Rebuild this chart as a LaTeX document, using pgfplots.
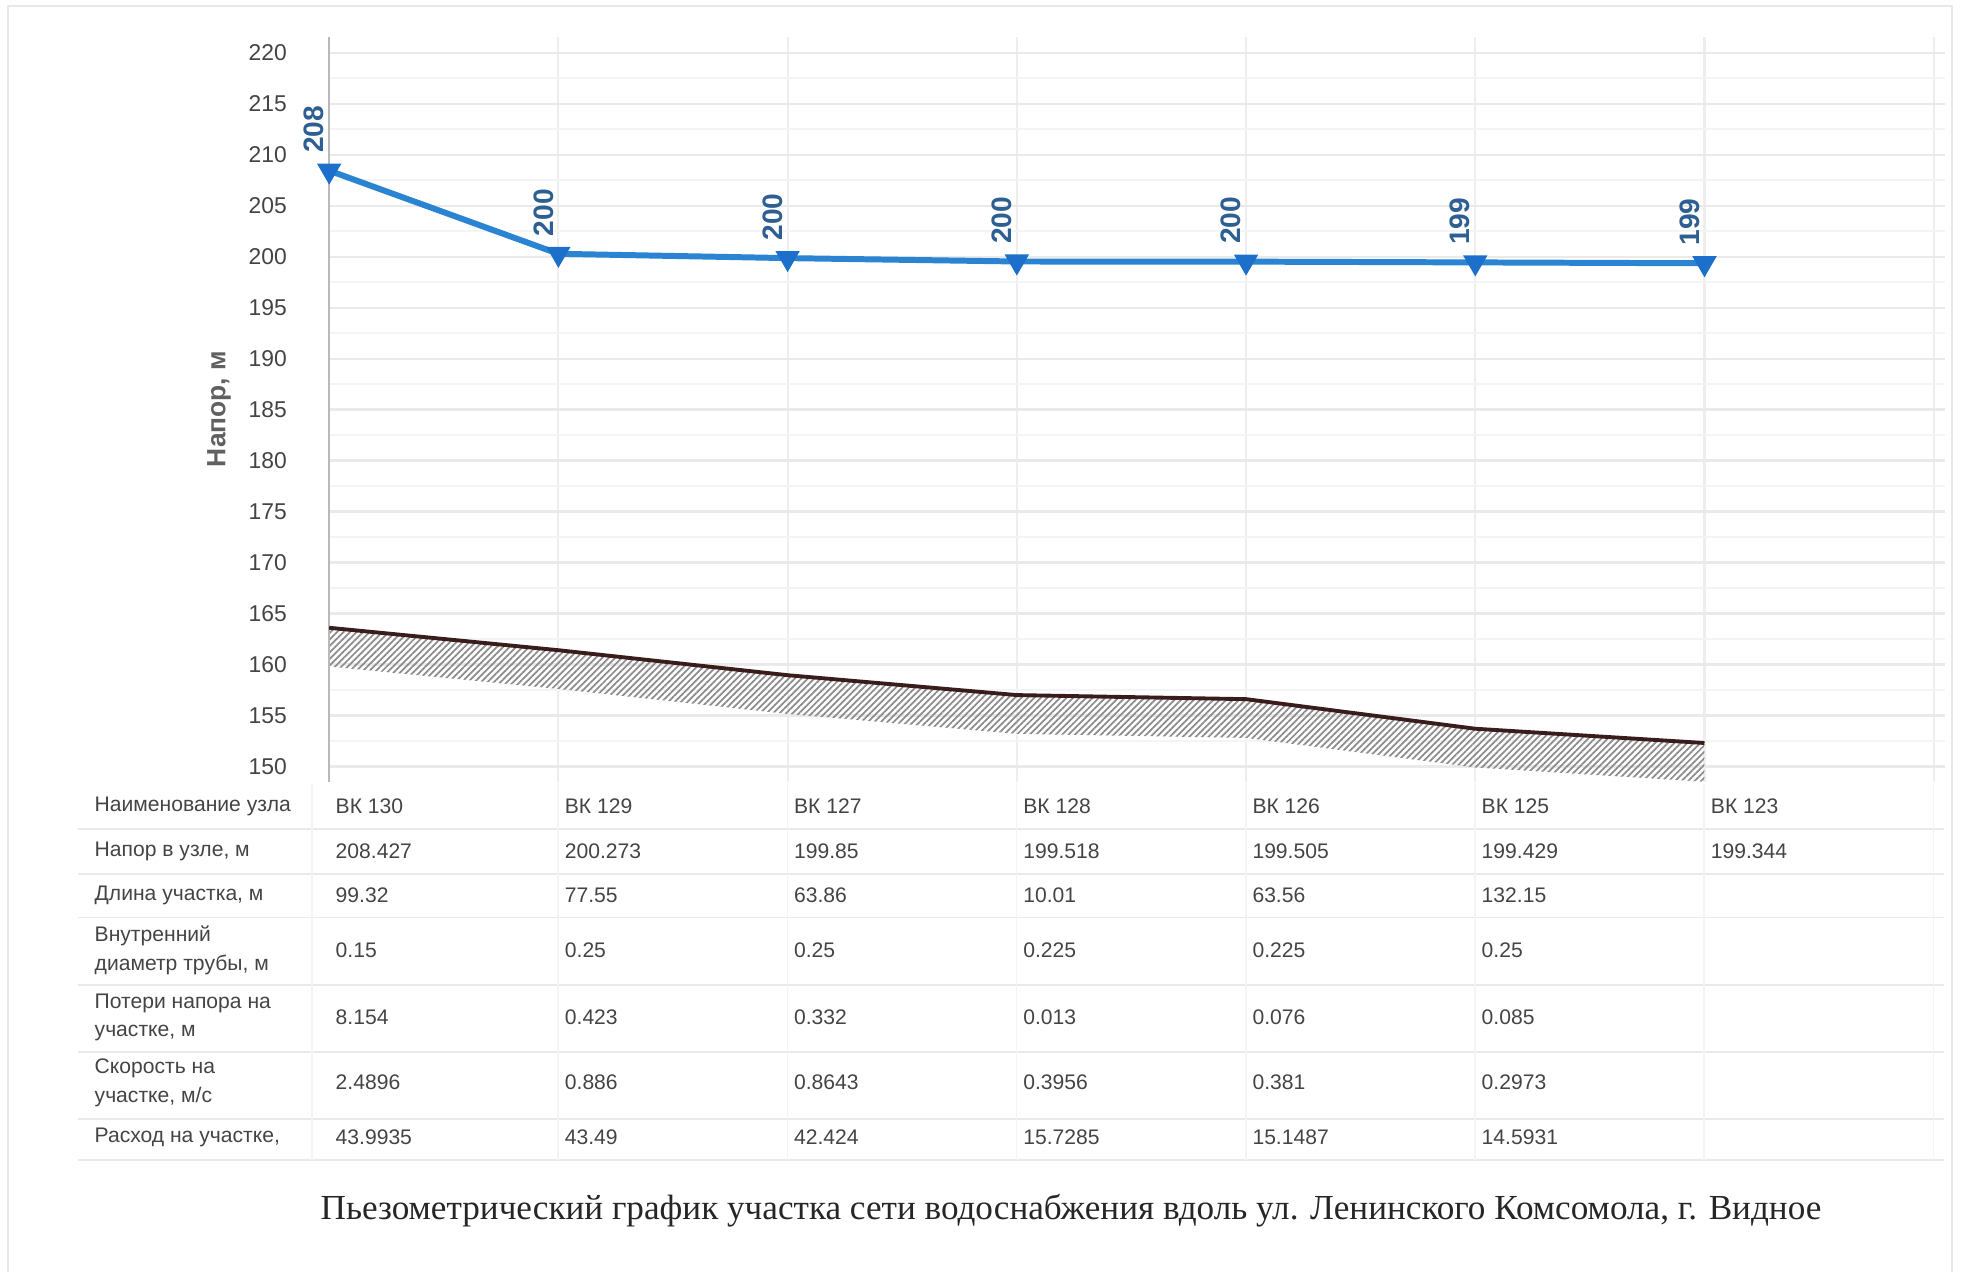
\documentclass[border=0pt]{standalone}
\usepackage{fontspec}
\setmainfont{Liberation Sans}
\newfontfamily\seriffont{Liberation Serif}
\usepackage{pgfplots}
\pgfplotsset{compat=1.18}
\usepgfplotslibrary{fillbetween}
\usetikzlibrary{patterns.meta}

\definecolor{lineblue}{HTML}{2A84D2}
\definecolor{markblue}{HTML}{1C70CC}
\definecolor{lblblue}{HTML}{2D5F92}
\definecolor{groundc}{HTML}{3A1C1C}
\definecolor{gridmaj}{HTML}{EAEAEA}
\definecolor{gridmin}{HTML}{F4F4F4}
\definecolor{gridv}{HTML}{EEEEEE}
\definecolor{txt}{HTML}{444444}
\definecolor{framec}{HTML}{E6E8EE}

\begin{document}
\begin{tikzpicture}
\begin{scope}[x=0.01cm,y=-0.01cm,shift={(0cm,12.72cm)}]
\path[use as bounding box] (0,0) rectangle (1961,1272);
\end{scope}

\begin{axis}[
  at={(3.29cm,4.907cm)}, anchor=south west,
  scale only axis, width=16.15cm, height=7.44cm,
  xmin=0, xmax=7.05, ymin=148.5, ymax=221.5,
  axis line style={draw=none},
  tick style={draw=none},
  xtick={0,...,7}, xticklabels={},
  ytick={150,155,...,220},
  minor y tick num=1,
  xmajorgrids, ymajorgrids, yminorgrids,
  major grid style={gridmaj, line width=0.6pt},
  minor grid style={gridmin, line width=0.6pt},
  major x grid style={gridv, line width=0.6pt},
  /pgf/number format/assume math mode=true,
  yticklabel style={font=\fontsize{6.5}{8}\selectfont, text=txt, xshift=-0.3cm},
  clip=false,
]
\draw[gray!55, line width=0.6pt] (axis cs:0,148.5) -- (axis cs:0,221.5);

\addplot[name path=g, draw=none, forget plot] coordinates {
  (0,163.6) (1,161.4) (2,158.95) (3,157.0) (4,156.6) (5,153.7) (6,152.3)};
\addplot[name path=gb, draw=none, forget plot] coordinates {
  (0,159.8) (1,157.6) (2,155.15) (3,153.2) (4,152.8) (5,149.9) (6,148.5)};
\addplot[pattern={Lines[angle=45,distance=1.3pt,line width=0.5pt]}, pattern color=gray!90, draw=none] fill between[of=g and gb];
\addplot[groundc, line width=1.1pt] coordinates {
  (0,163.6) (1,161.4) (2,158.95) (3,157.0) (4,156.6) (5,153.7) (6,152.3)};

\addplot[lineblue, line width=1.7pt, mark=triangle*, mark size=3.6pt,
  mark options={rotate=180, fill=markblue, draw=markblue, line width=0.4pt},
  point meta=explicit symbolic, nodes near coords,
  nodes near coords style={xshift=-1.5mm, yshift=1.7mm, rotate=90, anchor=west,
     font=\bfseries\fontsize{8}{9}\selectfont, text=lblblue, inner sep=0pt}]
coordinates {
  (0,208.427) [208]
  (1,200.273) [200]
  (2,199.85)  [200]
  (3,199.518) [200]
  (4,199.505) [200]
  (5,199.429) [199]
  (6,199.344) [199]
};
\end{axis}

\begin{scope}[x=0.01cm,y=-0.01cm,shift={(0cm,12.72cm)}, font=\fontsize{6}{8.2}\selectfont, text=txt]
  % frame
  \draw[framec, line width=0.6pt] (8,1272) -- (8,6) -- (1952,6) -- (1952,1272);
  % table lines
  \foreach \y in {829,874,917.5,985,1052,1119,1160}
    \draw[gridmaj, line width=0.5pt] (78,\y) -- (1944,\y);
  \draw[gridmin, line width=0.5pt] (312,783) -- (312,1160);
  \foreach \i in {1,...,7}
    \draw[gridmin, line width=0.5pt] ({329+229.2*\i},783) -- ({329+229.2*\i},1160);
  % axis label
  \node[rotate=90, font=\bfseries\fontsize{7.5}{9}\selectfont, text=txt!85] at (219,409) {Напор, м};
  % row labels
  \node[anchor=west, inner sep=0, align=left] at (94,806) {Наименование узла};
  \node[anchor=west, inner sep=0, align=left] at (94,851) {Напор в узле, м};
  \node[anchor=west, inner sep=0, align=left] at (94,895) {Длина участка, м};
  \node[anchor=west, inner sep=0, align=left] at (94,950) {Внутренний\\диаметр трубы, м};
  \node[anchor=west, inner sep=0, align=left] at (94,1017.5) {Потери напора на\\участке, м};
  \node[anchor=west, inner sep=0, align=left] at (94,1082.5) {Скорость на\\участке, м/с};
  \node[anchor=west, inner sep=0, align=left] at (94,1137.5) {Расход на участке,};
  % data
  \foreach \v [count=\i from 0] in {ВК 130,ВК 129,ВК 127,ВК 128,ВК 126,ВК 125,ВК 123}
    \node[anchor=west, inner sep=0] at ({335+229.2*\i},806) {\v};
  \foreach \v [count=\i from 0] in {208.427,200.273,199.85,199.518,199.505,199.429,199.344}
    \node[anchor=west, inner sep=0] at ({335+229.2*\i},851) {\v};
  \foreach \v [count=\i from 0] in {99.32,77.55,63.86,10.01,63.56,132.15}
    \node[anchor=west, inner sep=0] at ({335+229.2*\i},895) {\v};
  \foreach \v [count=\i from 0] in {0.15,0.25,0.25,0.225,0.225,0.25}
    \node[anchor=west, inner sep=0] at ({335+229.2*\i},950) {\v};
  \foreach \v [count=\i from 0] in {8.154,0.423,0.332,0.013,0.076,0.085}
    \node[anchor=west, inner sep=0] at ({335+229.2*\i},1017.5) {\v};
  \foreach \v [count=\i from 0] in {2.4896,0.886,0.8643,0.3956,0.381,0.2973}
    \node[anchor=west, inner sep=0] at ({335+229.2*\i},1082.5) {\v};
  \foreach \v [count=\i from 0] in {43.9935,43.49,42.424,15.7285,15.1487,14.5931}
    \node[anchor=west, inner sep=0] at ({335+229.2*\i},1137.5) {\v};
  % caption
  \node[font=\seriffont\fontsize{10}{12}\selectfont, text=black!85] at (1071,1211)
    {Пьезометрический график участка сети водоснабжения вдоль ул. Ленинского Комсомола, г. Видное};
\end{scope}
\end{tikzpicture}
\end{document}
